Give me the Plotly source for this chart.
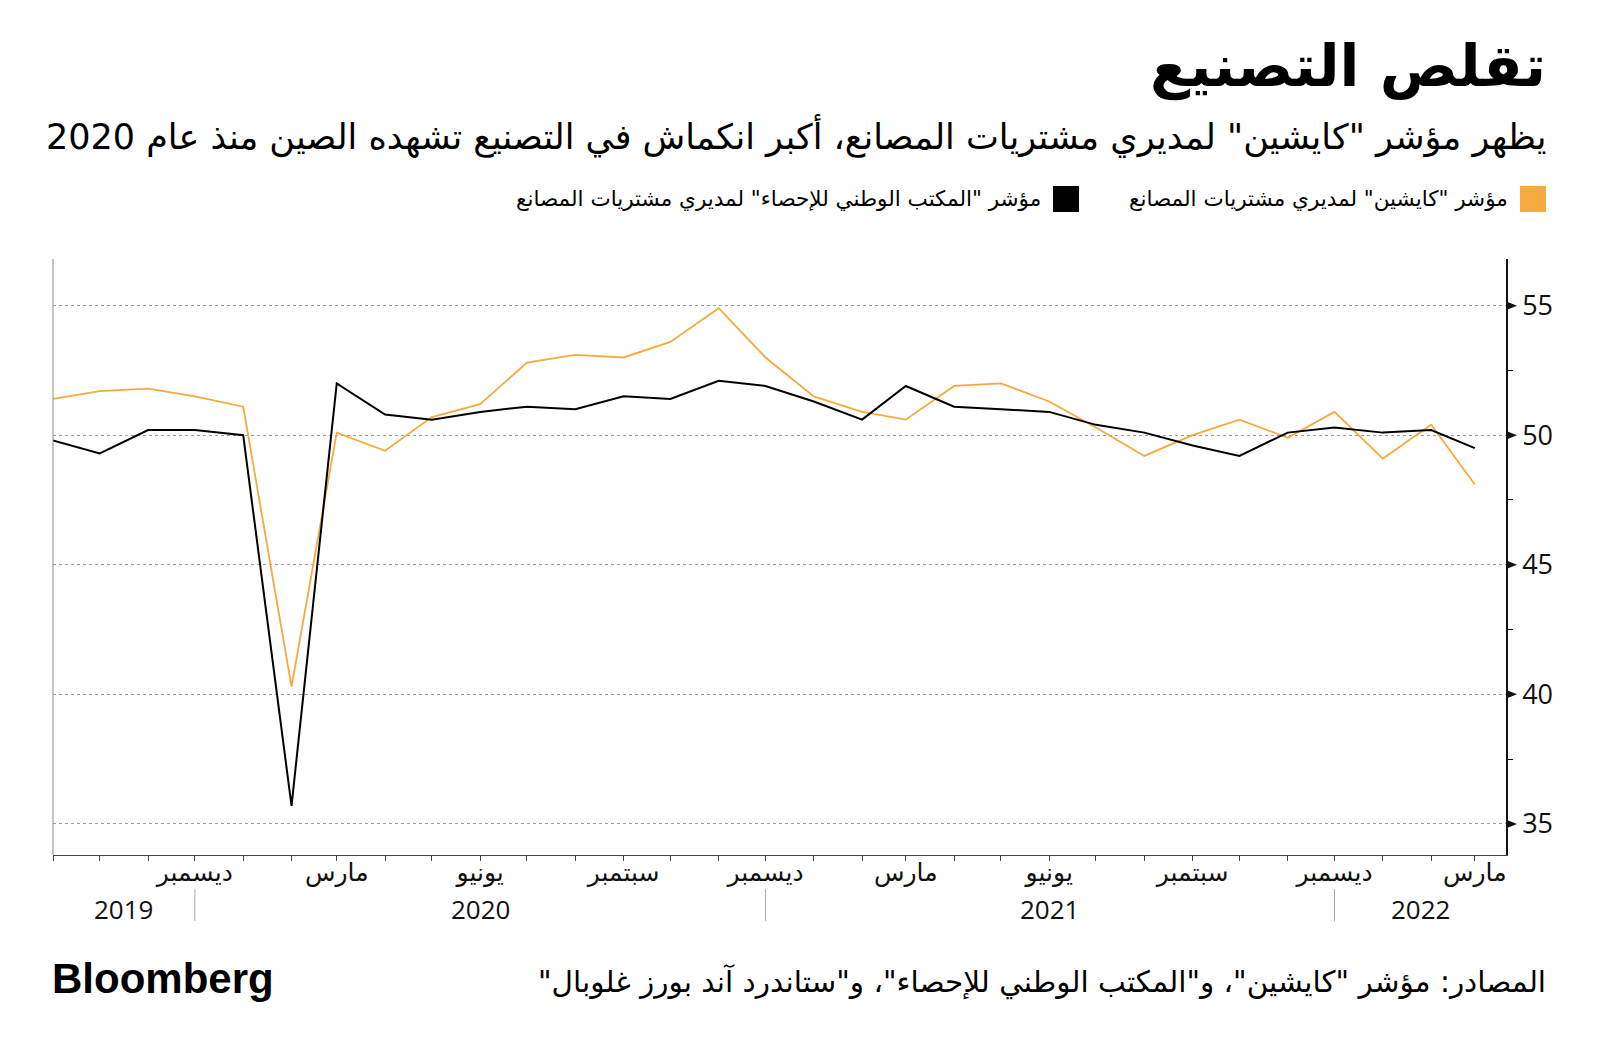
import plotly.graph_objects as go
import pandas as pd

# ---------------- data ----------------
months = pd.date_range("2019-09-01", "2022-03-01", freq="MS")

caixin = [51.4, 51.7, 51.8, 51.5, 51.1, 40.3, 50.1, 49.4, 50.7, 51.2,
          52.8, 53.1, 53.0, 53.6, 54.9, 53.0, 51.5, 50.9, 50.6, 51.9,
          52.0, 51.3, 50.3, 49.2, 50.0, 50.6, 49.9, 50.9, 49.1, 50.4, 48.1]
nbs = [49.8, 49.3, 50.2, 50.2, 50.0, 35.7, 52.0, 50.8, 50.6, 50.9,
       51.1, 51.0, 51.5, 51.4, 52.1, 51.9, 51.3, 50.6, 51.9, 51.1,
       51.0, 50.9, 50.4, 50.1, 49.6, 49.2, 50.1, 50.3, 50.1, 50.2, 49.5]

series_names = ['مؤشر "كايشين" لمديري مشتريات المصانع',
                'مؤشر "المكتب الوطني للإحصاء" لمديري مشتريات المصانع']
series_colors = ["#f6a93e", "#000000"]

label_dates = ["2019-12-01", "2020-03-01", "2020-06-01", "2020-09-01", "2020-12-01",
               "2021-03-01", "2021-06-01", "2021-09-01", "2021-12-01", "2022-03-01"]
label_texts = ["ديسمبر", "مارس", "يونيو", "سبتمبر", "ديسمبر",
               "مارس", "يونيو", "سبتمبر", "ديسمبر", "مارس"]

year_texts = ["2019", "2020", "2021", "2022"]
year_pos = ["2019-10-16", "2020-06-01", "2021-06-01", "2022-01-25"]
year_separators = ["2019-12-01", "2020-12-01", "2021-12-01"]

y_ticks = [35, 40, 45, 50, 55]
y_minor = [37.5, 42.5, 47.5, 52.5]

title = "تقلص التصنيع"
subtitle = 'يظهر مؤشر "كايشين" لمديري مشتريات المصانع، أكبر انكماش في التصنيع تشهده الصين منذ عام 2020'
source = 'المصادر: مؤشر "كايشين"، و"المكتب الوطني للإحصاء"، و"ستاندرد آند بورز غلوبال"'
brand = "Bloomberg"

RLM = "\u200f"

# ---------------- geometry ----------------
W, H = 1600, 1056
L, R, T, B = 53, 1506, 259, 855


def px(x):
    return (x - L) / (R - L)


def py(y):
    return (B - y) / (B - T)


ARABIC = "DejaVu Sans"
NUM = "Open Sans, DejaVu Sans"

fig = go.Figure()
for vals, name, col, w in [(caixin, series_names[0], series_colors[0], 1.8),
                           (nbs, series_names[1], series_colors[1], 2.0)]:
    fig.add_trace(go.Scatter(x=months, y=vals, name=name, mode="lines",
                             line=dict(color=col, width=w), showlegend=False))

tickvals = list(months)
lab = dict(zip(pd.to_datetime(label_dates), label_texts))
ticktext = [lab.get(m, "") for m in months]

fig.update_layout(
    width=W, height=H,
    margin=dict(l=L, r=W - R, t=T, b=H - B),
    plot_bgcolor="white", paper_bgcolor="white",
    xaxis=dict(
        range=["2019-09-01", "2022-03-21"],
        tickvals=tickvals, ticktext=ticktext,
        ticks="outside", ticklen=5, tickcolor="#444", tickwidth=1,
        showline=True, linecolor="#444", linewidth=1,
        showgrid=False, zeroline=False,
        tickfont=dict(family=ARABIC, size=25, color="#111"),
        ticklabelstandoff=-10,
        fixedrange=True,
    ),
    yaxis=dict(
        side="right", range=[33.8, 56.8],
        tickvals=y_ticks, ticktext=[str(v) for v in y_ticks],
        ticks="outside", ticklen=9, tickcolor="rgba(0,0,0,0)",
        showline=True, linecolor="#111", linewidth=1.5,
        showgrid=True, gridcolor="#9a9a9a", griddash="dot", gridwidth=1,
        zeroline=False,
        tickfont=dict(family=NUM, size=27, color="#111"),
        minor=dict(tickvals=y_minor, ticks="outside", ticklen=5,
                   tickcolor="#111", showgrid=False),
    ),
)

shapes = []
# left border
shapes.append(dict(type="line", xref="paper", yref="paper", x0=0, x1=0, y0=0, y1=1,
                   line=dict(color="#8a8a8a", width=1)))
# tick triangles
for v in y_ticks:
    shapes.append(dict(type="path", xref="paper", yref="y",
                       xsizemode="pixel", xanchor=1, ysizemode="pixel", yanchor=v,
                       path="M1,-4 L11,0 L1,4 Z", fillcolor="#111",
                       line=dict(width=0)))
# year separators
for d in year_separators:
    shapes.append(dict(type="line", xref="x", yref="paper", x0=d, x1=d,
                       y0=py(889), y1=py(921), line=dict(color="#aaa", width=1)))
# legend squares
sq_x = [1520, 1053]
for xs, col in zip(sq_x, series_colors):
    shapes.append(dict(type="rect", xref="paper", yref="paper",
                       x0=px(xs), x1=px(xs + 26), y0=py(212), y1=py(186),
                       fillcolor=col, line=dict(width=0)))
fig.update_layout(shapes=shapes)

ann = []
ann.append(dict(text=f"<b>{title}</b>", xref="paper", yref="paper",
                x=px(1548), y=py(66), xanchor="right", yanchor="middle",
                showarrow=False, font=dict(family=ARABIC, size=58, color="#000")))
ann.append(dict(text=RLM + subtitle + RLM, xref="paper", yref="paper",
                x=px(1548), y=py(136), xanchor="right", yanchor="middle",
                showarrow=False, font=dict(family=ARABIC, size=35, color="#000")))
leg_text_x = [1510, 1043]
for xt, name in zip(leg_text_x, series_names):
    ann.append(dict(text=RLM + name + RLM, xref="paper", yref="paper",
                    x=px(xt), y=py(198), xanchor="right", yanchor="middle",
                    showarrow=False, font=dict(family=ARABIC, size=21.5, color="#000")))
for yt, xp in zip(year_texts, year_pos):
    ann.append(dict(text=yt, xref="x", yref="paper", x=xp, y=py(909),
                    xanchor="center", yanchor="middle", showarrow=False,
                    font=dict(family=NUM, size=26, color="#111")))
ann.append(dict(text=f"<b>{brand}</b>", xref="paper", yref="paper",
                x=px(50), y=py(978), xanchor="left", yanchor="middle",
                showarrow=False, font=dict(family="Liberation Sans", size=42, color="#000")))
ann.append(dict(text=RLM + source + RLM, xref="paper", yref="paper",
                x=px(1548), y=py(982), xanchor="right", yanchor="middle",
                showarrow=False, font=dict(family=ARABIC, size=29.5, color="#000")))
fig.update_layout(annotations=ann)

fig.write_html("out.html")
